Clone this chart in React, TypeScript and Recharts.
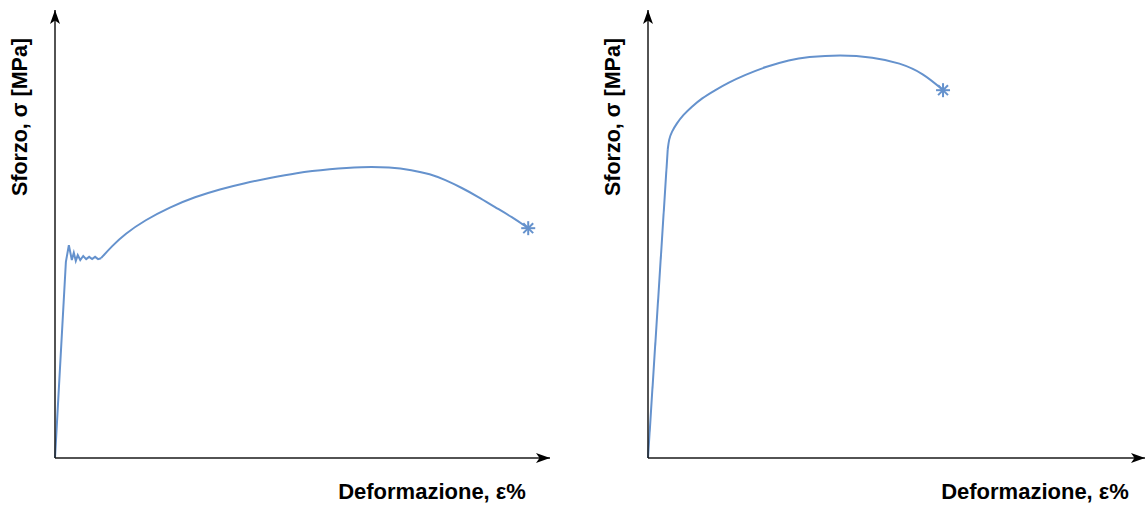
import React from "react";
import { Label, Line, LineChart, XAxis, YAxis } from "recharts";

// Mild steel: elastic rise, serrated yield plateau, strain hardening, necking
const mildYieldStrain = [0, 2.2, 2.8, 3.4, 3.8, 4.2, 4.6, 5.1, 5.7, 6.3, 6.9, 7.5, 8.1, 8.7, 9.3];
const mildYieldStress = [0, 43.8, 47.5, 44.2, 45.8, 44.0, 45.3, 44.2, 45.1, 44.4, 44.9, 44.4, 44.9, 44.4, 44.6];
const mildHardeningStrain = [9.3, 11.5, 14.1, 18.2, 23.2, 28.3, 33.3, 38.4, 43.4, 48.5, 55.6, 62.0, 67.7, 72.1, 75.8, 78.8, 82.2, 85.5, 88.9, 92.3, 95.6];
const mildHardeningStress = [44.6, 47.3, 50.0, 53.1, 56.0, 58.3, 60.0, 61.4, 62.5, 63.6, 64.5, 65.0, 64.9, 64.3, 63.4, 62.1, 60.3, 58.3, 56.0, 53.8, 51.3];

// High-strength steel: no distinct yield point, rounded hardening curve
const hardElasticStrain = [0, 3.98];
const hardElasticStress = [0, 68.8];
const hardHardeningStrain = [3.98, 4.24, 4.79, 5.8, 7.13, 8.83, 10.85, 13.54, 16.22, 19.6, 23.64, 28.7, 32.1, 38.8, 45.5, 50.9, 55.6, 59.6];
const hardHardeningStress = [68.8, 71.2, 72.8, 74.7, 76.6, 78.4, 80.3, 82.1, 83.8, 85.5, 87.3, 88.9, 89.5, 90.0, 89.5, 88.2, 85.9, 82.1];

const xTitle = "Deformazione, ε%";
const yTitle = "Sforzo, σ [MPa]";

const LINE = "#6592cd";
const AXIS = "#1a1a1a";
const FONT = "'Liberation Sans', Arial, sans-serif";

const zip = (xs: number[], ys: number[]) => xs.map((x, i) => ({ x, y: ys[i] }));

// asterisk drawn at the fracture point (last point of a series)
const fractureDot = (count: number) => (props: any) => {
  const { cx, cy, index } = props;
  if (index !== count - 1) return <g key={`d-${index}`} />;
  const r = 7;
  return (
    <g key={`d-${index}`} stroke={LINE} strokeWidth={2}>
      {[0, 45, 90, 135].map((a) => {
        const dx = r * Math.cos((a * Math.PI) / 180);
        const dy = r * Math.sin((a * Math.PI) / 180);
        return <line key={a} x1={cx - dx} y1={cy - dy} x2={cx + dx} y2={cy + dy} />;
      })}
    </g>
  );
};

interface CurveProps {
  width: number;
  margin: { top: number; right: number; bottom: number; left: number };
  xTitleShift: number;
  first: { x: number; y: number }[];
  second: { x: number; y: number }[];
  xMax: number;
}

const StressStrain: React.FC<CurveProps> = ({ width, margin, xTitleShift, first, second, xMax }) => (
  <LineChart width={width} height={505} margin={margin} style={{ overflow: "visible" }}>
    <XAxis
      type="number"
      dataKey="x"
      domain={[0, xMax]}
      height={1}
      tick={false}
      tickLine={false}
      axisLine={{ stroke: AXIS, strokeWidth: 1.5, markerEnd: "url(#axisArrow)" }}
    >
      <Label
        content={(p: any) => {
          const vb = p.viewBox;
          return (
            <text
              x={vb.x + vb.width - xTitleShift}
              y={vb.y + 41}
              textAnchor="middle"
              fontFamily={FONT}
              fontWeight="bold"
              fontSize={22}
              fill="#000"
            >
              {xTitle}
            </text>
          );
        }}
      />
    </XAxis>
    <YAxis
      type="number"
      domain={[0, 100]}
      width={1}
      tick={false}
      tickLine={false}
      axisLine={{ stroke: AXIS, strokeWidth: 1.5, markerStart: "url(#axisArrowUp)" }}
    >
      <Label
        content={(p: any) => {
          const vb = p.viewBox;
          const cx = vb.x + vb.width - 35;
          const cy = vb.y + 107;
          return (
            <text
              x={cx}
              y={cy}
              transform={`rotate(-90 ${cx} ${cy})`}
              textAnchor="middle"
              dominantBaseline="central"
              fontFamily={FONT}
              fontWeight="bold"
              fontSize={21.5}
              fill="#000"
            >
              {yTitle}
            </text>
          );
        }}
      />
    </YAxis>
    <Line
      data={first}
      dataKey="y"
      type="linear"
      stroke={LINE}
      strokeWidth={2}
      dot={false}
      isAnimationActive={false}
    />
    <Line
      data={second}
      dataKey="y"
      type="basis"
      stroke={LINE}
      strokeWidth={2}
      dot={fractureDot(second.length)}
      activeDot={false}
      isAnimationActive={false}
    />
  </LineChart>
);

export default function App() {
  return (
    <div
      style={{
        position: "absolute",
        left: 0,
        top: 0,
        width: 1147,
        height: 505,
        overflow: "hidden",
        background: "#fff",
      }}
    >
      <svg width={0} height={0} style={{ position: "absolute" }}>
        <defs>
          <marker
            id="axisArrow"
            viewBox="0 0 14 10"
            refX={14}
            refY={5}
            markerWidth={14}
            markerHeight={10}
            markerUnits="userSpaceOnUse"
            orient="auto"
          >
            <path d="M0,0 L14,5 L0,10 L3.5,5 Z" fill="#000" />
          </marker>
          <marker
            id="axisArrowUp"
            viewBox="0 0 14 10"
            refX={14}
            refY={5}
            markerWidth={14}
            markerHeight={10}
            markerUnits="userSpaceOnUse"
            orient="auto-start-reverse"
          >
            <path d="M0,0 L14,5 L0,10 L3.5,5 Z" fill="#000" />
          </marker>
        </defs>
      </svg>
      <div style={{ position: "absolute", left: 0, top: 0 }}>
        <StressStrain
          width={590}
          margin={{ top: 10, right: 40, bottom: 46, left: 54 }}
          xTitleShift={118}
          first={zip(mildYieldStrain, mildYieldStress)}
          second={zip(mildHardeningStrain, mildHardeningStress)}
          xMax={100}
        />
      </div>
      <div style={{ position: "absolute", left: 590, top: 0 }}>
        <StressStrain
          width={557}
          margin={{ top: 10, right: 2, bottom: 46, left: 57 }}
          xTitleShift={110}
          first={zip(hardElasticStrain, hardElasticStress)}
          second={zip(hardHardeningStrain, hardHardeningStress)}
          xMax={100.4}
        />
      </div>
    </div>
  );
}
